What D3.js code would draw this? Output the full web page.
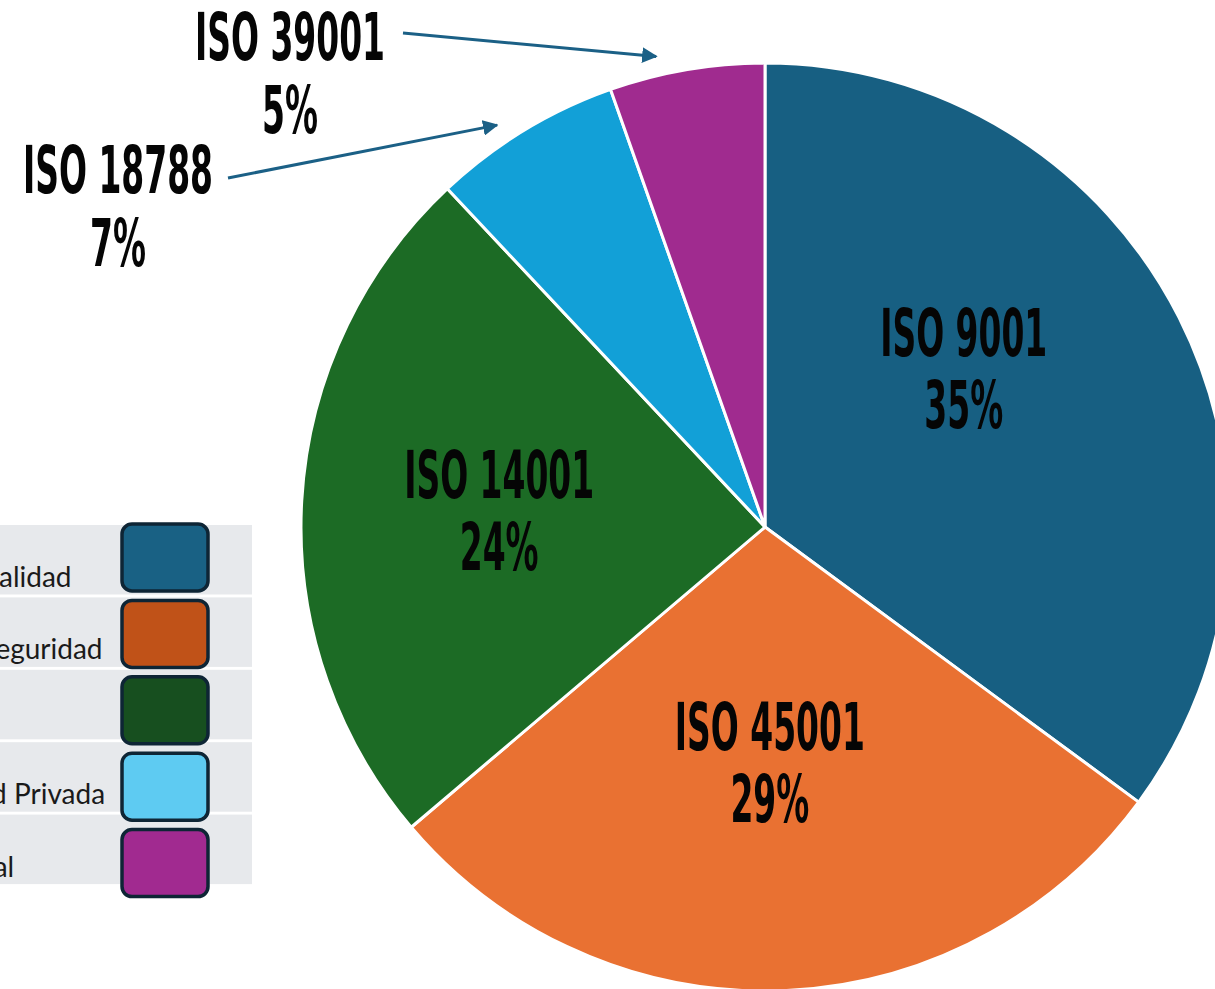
<!DOCTYPE html>
<html>
<head>
<meta charset="utf-8">
<script src="https://cdn.jsdelivr.net/npm/d3@7"></script>
<style>
  html, body { margin: 0; padding: 0; background: #ffffff; overflow: hidden; }
  svg { display: block; }
</style>
</head>
<body>
<svg id="chart" width="1215" height="989"></svg>
<script>
// Certification share by ISO standard
const standards = ["ISO 9001", "ISO 45001", "ISO 14001", "ISO 18788", "ISO 39001"];
const shares = [35.1, 28.7, 24.2, 6.6, 5.4];
const legendNames = ["Gestión de Calidad", "Gestión de Seguridad", "Ambiental", "Op Seguridad Privada", "Seguridad Vial"];
const sliceColors = ["#175f82", "#e97132", "#1c6b25", "#12a0d7", "#a02b8f"];
const legendColors = ["#196184", "#c05218", "#174f1f", "#5ecbf2", "#a12a90"];

const W = 1215, H = 989;
const cx = 765, cy = 527, R = 464;
const svg = d3.select("#chart");

const pie = d3.pie().sort(null).value(d => d);
const arcs = pie(shares);
const arc = d3.arc().innerRadius(0).outerRadius(R);

// ---- slices ----
const g = svg.append("g").attr("transform", `translate(${cx},${cy})`);
g.selectAll("path.slice")
  .data(arcs)
  .join("path")
  .attr("class", "slice")
  .attr("d", arc)
  .attr("fill", (d, i) => sliceColors[i])
  .attr("stroke", "#ffffff")
  .attr("stroke-width", 3)
  .attr("stroke-linejoin", "round");

// ---- condensed label font ----
const labelFont = "'Liberation Sans Narrow', 'DejaVu Sans Condensed', 'Liberation Sans', sans-serif";
const labelSize = 65;
const probe = svg.append("text")
  .attr("font-family", labelFont).attr("font-weight", 700).attr("font-size", labelSize)
  .text("ISO 45001");
const squeeze = 190 / probe.node().getComputedTextLength();
probe.remove();

function twoLineLabel(parent, x, y, line1, line2, gap) {
  const grp = parent.append("g");
  [line1, line2].forEach((t, k) => {
    grp.append("text")
      .attr("transform", `translate(${x},${y + k * gap}) scale(${squeeze},1)`)
      .attr("text-anchor", "middle")
      .attr("font-family", labelFont)
      .attr("font-weight", 700)
      .attr("font-size", labelSize)
      .attr("fill", "#050505")
      .text(t);
  });
}

const pct = v => Math.round(v) + "%";

// inside labels: centred on a mid-radius arc, then nudged
const labelArc = d3.arc().innerRadius(R * 0.55).outerRadius(R * 0.55);
const insideNudge = [[-29, -56], [-4, -32], [-11, -15]];
arcs.slice(0, 3).forEach((d, i) => {
  const [x, y] = labelArc.centroid(d);
  twoLineLabel(g, x + insideNudge[i][0], y + insideNudge[i][1], standards[i], pct(shares[i]), 72);
});

// outside callouts with arrows
const defs = svg.append("defs");
defs.append("marker")
  .attr("id", "arrowHead")
  .attr("viewBox", "0 0 10 10")
  .attr("refX", 9).attr("refY", 5)
  .attr("markerWidth", 5.2).attr("markerHeight", 5.2)
  .attr("markerUnits", "strokeWidth")
  .attr("orient", "auto")
  .append("path")
  .attr("d", "M0,0 L10,5 L0,10 Z")
  .attr("fill", "#1b6086");

const callouts = [
  { idx: 3, text: [118 - cx, 193 - cy], from: [228 - cx, 178 - cy], at: 0.40 },
  { idx: 4, text: [290 - cx, 60 - cy], from: [403 - cx, 33 - cy], at: 0.33 }
];
callouts.forEach(c => {
  const d = arcs[c.idx];
  const a = d.startAngle + (d.endAngle - d.startAngle) * c.at;
  const tipR = R + 19;
  const tx = tipR * Math.sin(a), ty = -tipR * Math.cos(a);
  g.append("line")
    .attr("x1", c.from[0]).attr("y1", c.from[1])
    .attr("x2", tx).attr("y2", ty)
    .attr("stroke", "#1b6086")
    .attr("stroke-width", 3)
    .attr("marker-end", "url(#arrowHead)");
  twoLineLabel(g, c.text[0], c.text[1], standards[c.idx], pct(shares[c.idx]), 73);
});

// ---- legend (its text column runs past the left edge) ----
const legend = svg.append("g");
const legendFont = "Lato, 'Noto Sans', sans-serif";
const legendSize = 28;
const rowTop = 525, rowStep = 72.4, rowH = 69.5;

// text column starts so that the "C" of the first entry ends at the window edge
const measure = svg.append("text")
  .attr("font-family", legendFont).attr("font-size", legendSize)
  .text("Gestión de C");
const textX = -measure.node().getComputedTextLength() - 1;
measure.remove();

legendNames.forEach((name, i) => {
  const y0 = rowTop + i * rowStep;
  legend.append("rect")
    .attr("x", -300).attr("y", y0)
    .attr("width", 552).attr("height", rowH)
    .attr("fill", "#e7e9ec");
  legend.append("text")
    .attr("x", textX).attr("y", y0 + 62)
    .attr("font-family", legendFont)
    .attr("font-size", legendSize)
    .attr("fill", "#1a1a1a")
    .text(name);
});
legendColors.forEach((col, i) => {
  legend.append("rect")
    .attr("x", 122).attr("y", 524 + i * 76.4)
    .attr("width", 86).attr("height", 67)
    .attr("rx", 10).attr("ry", 10)
    .attr("fill", col)
    .attr("stroke", "#0e2535")
    .attr("stroke-width", 3.5);
});
</script>
</body>
</html>
